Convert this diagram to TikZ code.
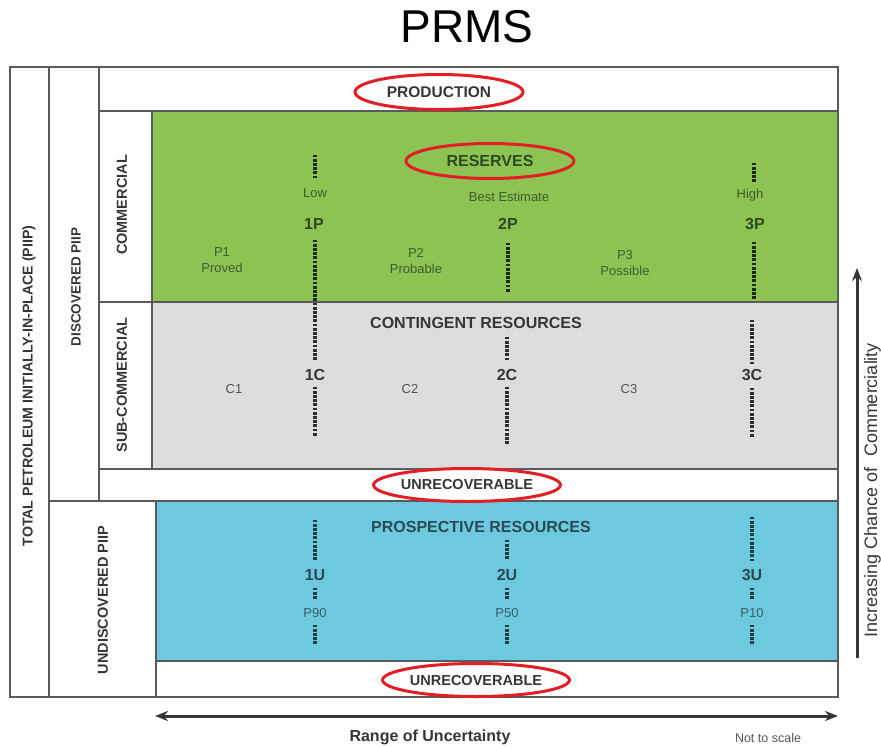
\documentclass[tikz,border=0pt]{standalone}
\usepackage{fontspec}
\setmainfont{Liberation Sans}
\usetikzlibrary{arrows.meta,shapes.geometric}

\definecolor{resgreen}{HTML}{8CC352}
\definecolor{congray}{HTML}{DCDDDF}
\definecolor{prosblue}{HTML}{6DCADE}
\definecolor{frame}{HTML}{5A5A5A}
\definecolor{ringred}{HTML}{E31E24}
\definecolor{inkdark}{HTML}{363636}
\definecolor{inkmid}{HTML}{555555}
\definecolor{inkgreen}{HTML}{2F4A20}
\definecolor{inkgreenlt}{HTML}{3E5E2E}
\definecolor{inkblue}{HTML}{2A4A57}
\definecolor{inkbluelt}{HTML}{3B5F6C}
\definecolor{dotgreen}{HTML}{1F2A18}
\definecolor{dotgray}{HTML}{2E2E2E}
\definecolor{dotblue}{HTML}{233C47}

% a vertical run of square dots: colour, x, top y, bottom y
\newcommand{\dotrun}[4]{%
  \pgfmathtruncatemacro{\dotcount}{(#4-#3)/4.2}%
  \foreach \k in {0,...,\dotcount}{%
    \fill[#1] ({#2-1.7},{#3+\k*4.2-1.4}) rectangle ++(3.4,2.8);%
  }%
}

\begin{document}
\begin{tikzpicture}[x=1pt,y=-1pt,
  box/.style={draw=frame,line width=1.5pt},
  ring/.style={ellipse,draw=ringred,line width=3pt,minimum width=168pt,
    minimum height=35pt,inner sep=0pt},
  classlbl/.style={font=\fontsize{16}{18}\selectfont\bfseries},
  ringlbl/.style={font=\fontsize{14.5}{17}\selectfont\bfseries,text=inkdark},
  sidelbl/.style={rotate=90,font=\fontsize{14.5}{16}\selectfont\bfseries,text=inkdark},
  smalllbl/.style={font=\fontsize{13}{15.5}\selectfont,align=center},
  rangeaxis/.style={line width=3pt,draw=inkdark,>={Stealth[length=13pt,width=10pt]}},
]
\useasboundingbox (0,0) rectangle (881,747);

% title
\node[font=\fontsize{46}{50}\selectfont] (title) at (467,27) {PRMS};

% coloured class panels
\fill[resgreen] (152,111) rectangle (838,302);
\fill[congray] (152,302) rectangle (838,469);
\fill[prosblue] (156,501) rectangle (838,661);

% frame lines
\draw[box] (10,67) rectangle (838,697);
\draw[box] (49,67) -- (49,697);
\draw[box] (99,67) -- (99,501);
\draw[box] (99,111) -- (838,111);
\draw[box] (152,111) -- (152,469);
\draw[box] (99,302) -- (838,302);
\draw[box] (99,469) -- (838,469);
\draw[box] (49,501) -- (838,501);
\draw[box] (156,501) -- (156,697);
\draw[box] (156,661) -- (838,661);

% row / column headings
\node[sidelbl,font=\fontsize{14.2}{16}\selectfont\bfseries] (piip) at (29,386) {TOTAL PETROLEUM INITIALLY-IN-PLACE (PIIP)};
\node[sidelbl,font=\fontsize{13.5}{16}\selectfont\bfseries] (disc) at (76,287) {DISCOVERED PIIP};
\node[sidelbl] (comm) at (122,205) {COMMERCIAL};
\node[sidelbl] (subc) at (122,385) {SUB-COMMERCIAL};
\node[sidelbl] (undisc) at (103,600) {UNDISCOVERED PIIP};

% ringed headings
\node[ring,ringlbl,font=\fontsize{15.5}{17}\selectfont\bfseries] (prod) at (439,92) {PRODUCTION};
\node[ring,classlbl,text=inkgreen] (res) at (490,161) {RESERVES};
\node[ring,ringlbl,minimum height=33pt] (unrec1) at (467,485) {UNRECOVERABLE};
\node[ring,ringlbl,minimum height=33pt] (unrec2) at (476,680) {UNRECOVERABLE};

% reserves panel
\node[smalllbl,text=inkgreenlt] (low) at (315,193) {Low};
\node[smalllbl,text=inkgreenlt] (best) at (509,197) {Best Estimate};
\node[smalllbl,text=inkgreenlt] (high) at (750,195) {High};
\node[classlbl,text=inkgreen] (p1p) at (314,224) {1P};
\node[classlbl,text=inkgreen] (p2p) at (508,224) {2P};
\node[classlbl,text=inkgreen] (p3p) at (755,224) {3P};
\node[smalllbl,text=inkgreenlt] (proved) at (222,260) {P1\\Proved};
\node[smalllbl,text=inkgreenlt] (probable) at (416,261) {P2\\Probable};
\node[smalllbl,text=inkgreenlt] (possible) at (625,263) {P3\\Possible};

\dotrun{dotgreen}{315}{156}{179}
\dotrun{dotgreen}{315}{241}{300}
\dotrun{dotgreen}{508}{244}{294}
\dotrun{dotgreen}{754}{164}{181}
\dotrun{dotgreen}{754}{243}{299}

% contingent panel
\node[classlbl,text=inkdark] (cont) at (476,323) {CONTINGENT RESOURCES};
\node[classlbl,text=inkdark] (c1c) at (315,375) {1C};
\node[classlbl,text=inkdark] (c2c) at (507,375) {2C};
\node[classlbl,text=inkdark] (c3c) at (752,375) {3C};
\node[smalllbl,text=inkmid] (c1) at (234,389) {C1};
\node[smalllbl,text=inkmid] (c2) at (410,389) {C2};
\node[smalllbl,text=inkmid] (c3) at (629,389) {C3};

\dotrun{dotgray}{315}{304}{362}
\dotrun{dotgray}{315}{388}{436}
\dotrun{dotgray}{507}{338}{363}
\dotrun{dotgray}{507}{388}{443}
\dotrun{dotgray}{752}{321}{363}
\dotrun{dotgray}{752}{389}{438}

% prospective panel
\node[classlbl,text=inkblue] (pros) at (481,527) {PROSPECTIVE RESOURCES};
\node[classlbl,text=inkblue] (u1u) at (315,575) {1U};
\node[classlbl,text=inkblue] (u2u) at (507,575) {2U};
\node[classlbl,text=inkblue] (u3u) at (752,575) {3U};
\node[smalllbl,text=inkbluelt] (p90) at (315,613) {P90};
\node[smalllbl,text=inkbluelt] (p50) at (507,613) {P50};
\node[smalllbl,text=inkbluelt] (p10) at (752,613) {P10};

\dotrun{dotblue}{315}{521}{559}
\dotrun{dotblue}{507}{541}{559}
\dotrun{dotblue}{752}{518}{562}
\foreach \x in {315,507,752}{
  \dotrun{dotblue}{\x}{589}{601}
  \dotrun{dotblue}{\x}{626}{643}
}

% axes
\coordinate (rangeL) at (155,716);
\coordinate (rangeR) at (838,716);
\draw[rangeaxis,<->] (rangeL) -- (rangeR);
\node[font=\fontsize{16}{18}\selectfont\bfseries,text=inkdark] (range) at (430,737) {Range of Uncertainty};
\node[font=\fontsize{12.5}{14}\selectfont,text=inkmid] (scale) at (768,738) {Not to scale};

\coordinate (commLo) at (857,658);
\coordinate (commHi) at (857,268);
\draw[rangeaxis,->] (commLo) -- (commHi);
\node[rotate=90,anchor=base,font=\fontsize{18}{20}\selectfont,text=inkdark] (chance) at (877,490) {Increasing Chance of\ \ Commerciality};
\end{tikzpicture}
\end{document}
